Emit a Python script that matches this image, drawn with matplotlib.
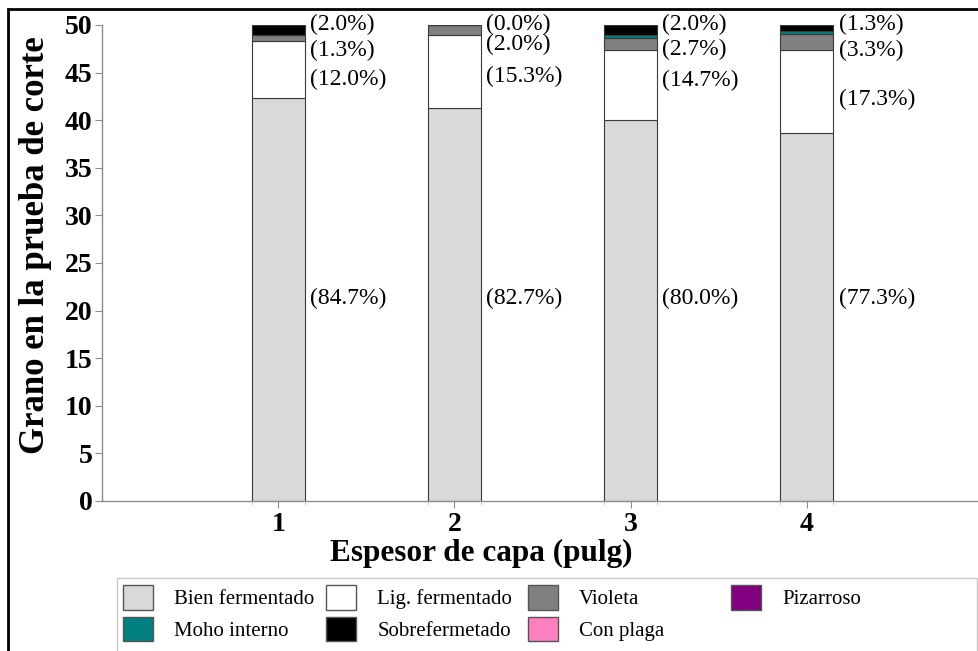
import matplotlib
matplotlib.use("Agg")
import matplotlib.pyplot as plt
from matplotlib.patches import Patch, Rectangle
import numpy as np

plt.rcParams['font.family'] = ['Liberation Serif', 'DejaVu Serif']

# granos (escala a 50) por espesor de capa
espesor = [1, 2, 3, 4]
bien_fermentado = [42.33, 41.33, 40.00, 38.67]
lig_fermentado = [6.00, 7.67, 7.33, 8.67]
violeta = [0.67, 1.00, 1.33, 1.67]
pizarroso = [0.0, 0.0, 0.0, 0.0]
moho_interno = [0.0, 0.0, 0.33, 0.33]
sobrefermentado = [1.00, 0.0, 1.00, 0.67]
con_plaga = [0.0, 0.0, 0.0, 0.0]

pct_bien = ["(84.7%)", "(82.7%)", "(80.0%)", "(77.3%)"]
pct_lig = ["(12.0%)", "(15.3%)", "(14.7%)", "(17.3%)"]
pct_violeta = ["(1.3%)", "(2.0%)", "(2.7%)", "(3.3%)"]
pct_sobre = ["(2.0%)", "(0.0%)", "(2.0%)", "(1.3%)"]

series = [
    ("Bien fermentado", bien_fermentado, "#d9d9d9"),
    ("Lig. fermentado", lig_fermentado, "#ffffff"),
    ("Violeta", violeta, "#808080"),
    ("Pizarroso", pizarroso, "#800080"),
    ("Moho interno", moho_interno, "#008080"),
    ("Sobrefermetado", sobrefermentado, "#000000"),
    ("Con plaga", con_plaga, "#ff80c0"),
]

# label heights (layout only)
lig_label_y = [44.3, 44.6, 44.2, 42.2]
violeta_label_y = [47.3, 48.0, 47.4, 47.3]
sobre_label_y = 50.1
bien_label_y = 21.3

fig = plt.figure(figsize=(9.79, 6.51), dpi=100)
ax = fig.add_axes([102 / 979, 150 / 651, 0.9, 476 / 651])

x = np.array(espesor, dtype=float)
width = 0.3
bottom = np.zeros(len(x))
for name, vals, color in series:
    vals = np.array(vals)
    ax.bar(x, vals, width, bottom=bottom, color=color, edgecolor="#3a3a3a",
           linewidth=0.8)
    bottom += vals

for i, xi in enumerate(x):
    xt = xi + width / 2 + 0.03
    ax.text(xt, bien_label_y, pct_bien[i], fontsize=17, va="center", ha="left")
    ax.text(xt, lig_label_y[i], pct_lig[i], fontsize=17, va="center", ha="left")
    ax.text(xt, violeta_label_y[i], pct_violeta[i], fontsize=17, va="center",
            ha="left")
    ax.text(xt, sobre_label_y, pct_sobre[i], fontsize=17, va="center", ha="left")

ax.set_xlim(0, 5)
ax.set_ylim(0, 50)
ax.set_xticks(espesor)
ax.set_xticks(np.concatenate([x - width / 2, x + width / 2]), minor=True)
ax.set_yticks(np.arange(0, 51, 5))
for s in ["top", "right"]:
    ax.spines[s].set_visible(False)
for s in ["left", "bottom"]:
    ax.spines[s].set_color("#8c8c8c")
    ax.spines[s].set_linewidth(1.0)
ax.tick_params(axis="both", which="major", color="#8c8c8c", length=5,
               width=0.8, labelsize=20, pad=2)
ax.tick_params(axis="x", which="major", pad=3)
ax.tick_params(axis="x", which="minor", color="#cfcfcf", length=3, width=0.8)
for lab in ax.get_xticklabels() + ax.get_yticklabels():
    lab.set_fontweight("bold")

ax.set_xlabel("Espesor de capa (pulg)", fontsize=22.5, fontweight="bold")
ax.set_ylabel("Grano en la prueba de corte", fontsize=25, fontweight="bold")
ax.xaxis.set_label_coords(0.43, -0.08)
ax.yaxis.set_label_coords(-0.057, 0.538)

# legend: four single-column legends inside one frame
order = [[0, 4], [1, 5], [2, 6], [3]]
col_x = [119, 322, 524, 727]
for cols, cx in zip(order, col_x):
    handles = [Patch(facecolor=series[k][2], edgecolor="#555555",
                     label=series[k][0]) for k in cols]
    leg = fig.legend(handles=handles, ncol=1, loc="upper left",
                     bbox_to_anchor=(cx / 979, 1 - 581 / 651),
                     frameon=False, fontsize=15,
                     handlelength=1.45, handleheight=1.45, handletextpad=1.0,
                     labelspacing=0.32, borderpad=0.2, borderaxespad=0)
fig.patches.append(Rectangle((117 / 979, -0.1), 860 / 979, 0.1 + 73 / 651,
                             transform=fig.transFigure, fill=False,
                             edgecolor="#c8c8c8", linewidth=1.0))

fig.patches.append(Rectangle((8 / 979, -0.1), 1.1, 1.1 - 9 / 651,
                             transform=fig.transFigure, fill=False,
                             edgecolor="black", linewidth=2))

fig.savefig("out.png", dpi=100)
